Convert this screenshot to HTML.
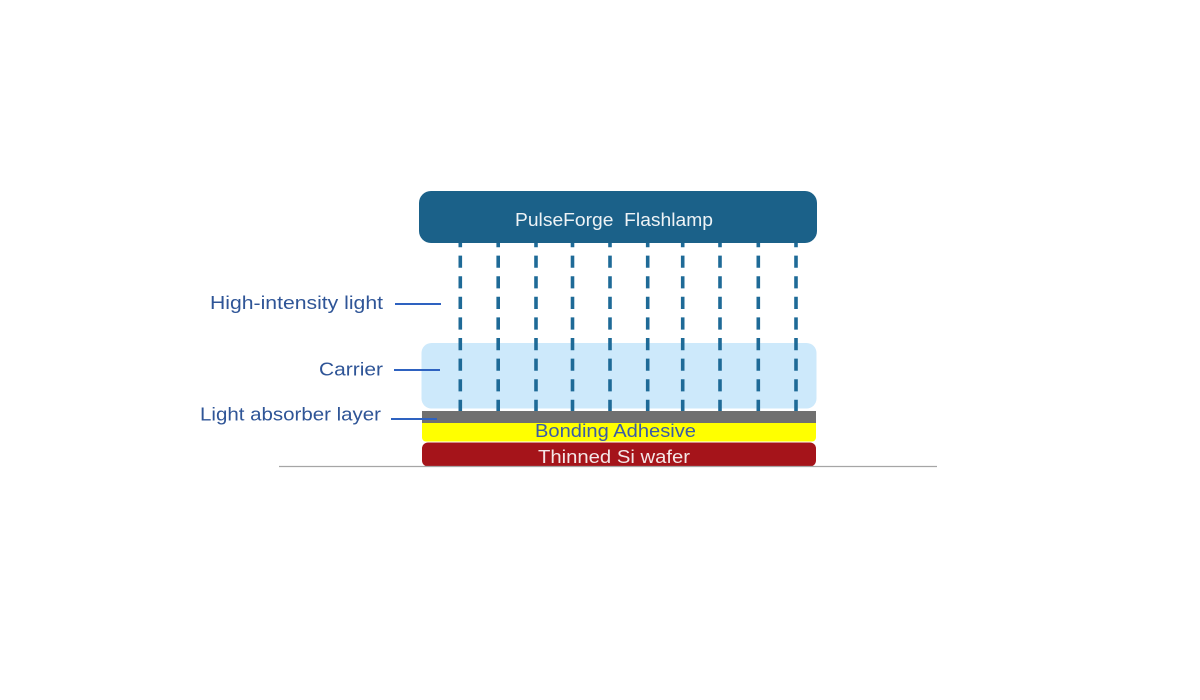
<!DOCTYPE html>
<html>
<head>
<meta charset="utf-8">
<style>
  html, body { margin: 0; padding: 0; background: #ffffff; }
  svg { display: block; }
  text { font-family: "Liberation Sans", "DejaVu Sans", sans-serif; }
</style>
</head>
<body>
<svg width="1200" height="700" viewBox="0 0 1200 700" xmlns="http://www.w3.org/2000/svg">
  <rect x="0" y="0" width="1200" height="700" fill="#ffffff"/>

  <!-- Carrier -->
  <rect x="421.5" y="343" width="395" height="65.5" rx="10" ry="10" fill="#cde9fb"/>

  <!-- Dashed light lines -->
  <g stroke="#1e6a97" stroke-width="3.6" stroke-dasharray="12.2 8.4" fill="none">
    <line x1="460.3" y1="235" x2="460.3" y2="411"/>
    <line x1="498.2" y1="235" x2="498.2" y2="411"/>
    <line x1="536" y1="235" x2="536" y2="411"/>
    <line x1="572.5" y1="235" x2="572.5" y2="411"/>
    <line x1="610" y1="235" x2="610" y2="411"/>
    <line x1="647.7" y1="235" x2="647.7" y2="411"/>
    <line x1="682.7" y1="235" x2="682.7" y2="411"/>
    <line x1="720" y1="235" x2="720" y2="411"/>
    <line x1="758.3" y1="235" x2="758.3" y2="411"/>
    <line x1="796" y1="235" x2="796" y2="411"/>
  </g>

  <!-- Flashlamp -->
  <rect x="419" y="191" width="398" height="52" rx="12" ry="12" fill="#1b6189"/>
  <text x="515" y="226" font-size="18" fill="#eef3f6" textLength="198" lengthAdjust="spacingAndGlyphs" xml:space="preserve">PulseForge  Flashlamp</text>

  <!-- Light absorber layer -->
  <rect x="422" y="411" width="394" height="12" fill="#707070"/>
  <!-- Bonding adhesive -->
  <rect x="422" y="423" width="394" height="18.5" rx="4" ry="4" fill="#ffff00"/>
  <rect x="422" y="423" width="394" height="6" fill="#ffff00"/>
  <text x="535" y="437" font-size="18" fill="#3a5ca6" textLength="161" lengthAdjust="spacingAndGlyphs">Bonding Adhesive</text>
  <!-- Thinned Si wafer -->
  <rect x="422" y="442.5" width="394" height="24" rx="6" ry="6" fill="#a5141a"/>
  <text x="538" y="463" font-size="18" fill="#f4e6e6" textLength="152" lengthAdjust="spacingAndGlyphs">Thinned Si wafer</text>

  <!-- Baseline -->
  <line x1="279" y1="466.5" x2="937" y2="466.5" stroke="#a6a6a6" stroke-width="1.2"/>

  <!-- Labels -->
  <g fill="#2f5597" font-size="18">
    <text x="210" y="309" textLength="173" lengthAdjust="spacingAndGlyphs">High-intensity light</text>
    <text x="319" y="375.5" textLength="64" lengthAdjust="spacingAndGlyphs">Carrier</text>
    <text x="200" y="420.7" textLength="181" lengthAdjust="spacingAndGlyphs">Light absorber layer</text>
  </g>
  <g stroke="#2e62c0" stroke-width="2">
    <line x1="395" y1="304" x2="441" y2="304"/>
    <line x1="394" y1="370" x2="440" y2="370"/>
    <line x1="391" y1="419" x2="437" y2="419"/>
  </g>
</svg>
</body>
</html>
